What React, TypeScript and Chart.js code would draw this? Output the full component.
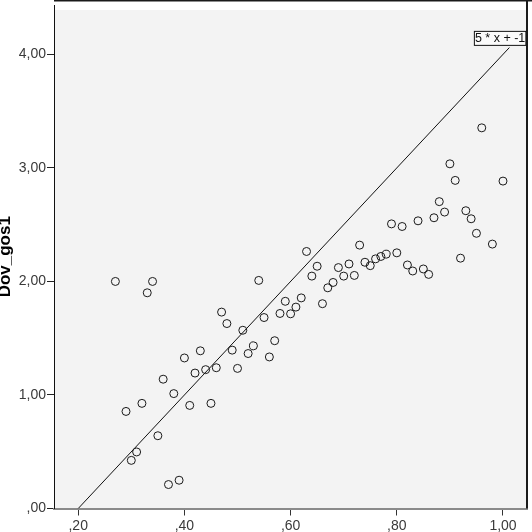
import React, { useEffect, useRef } from "react";
import { Chart, registerables } from "chart.js";

Chart.register(...registerables);

// Scatter data (x = predictor, y = Dov_gos1)
const xValues = [
  0.27, 0.34, 0.33, 0.29, 0.32, 0.3, 0.31, 0.35, 0.36, 0.38,
  0.37, 0.39, 0.4, 0.41, 0.42, 0.43, 0.44, 0.45, 0.46, 0.47,
  0.48, 0.49, 0.5, 0.51, 0.52, 0.53, 0.54, 0.55, 0.56, 0.57,
  0.58, 0.59, 0.6, 0.61, 0.62, 0.63, 0.64, 0.65, 0.66, 0.67,
  0.68, 0.69, 0.7, 0.71, 0.72, 0.73, 0.74, 0.75, 0.76, 0.77,
  0.78, 0.79, 0.8, 0.81, 0.82, 0.83, 0.84, 0.85, 0.86, 0.87,
  0.88, 0.89, 0.9, 0.91, 0.92, 0.93, 0.94, 0.95, 0.96, 0.98,
  1.0,
];
const yValues = [
  2.0, 2.0, 1.9, 0.855, 0.926, 0.424, 0.498, 0.641, 1.139, 1.012,
  0.211, 0.249, 1.326, 0.908, 1.193, 1.389, 1.223, 0.926, 1.24, 1.73,
  1.629, 1.395, 1.234, 1.57, 1.365, 1.433, 2.009, 1.682, 1.335, 1.478,
  1.718, 1.825, 1.715, 1.774, 1.855, 2.264, 2.047, 2.134, 1.804, 1.944,
  1.991, 2.122, 2.047, 2.154, 2.053, 2.32, 2.169, 2.139, 2.199, 2.22,
  2.24, 2.507, 2.252, 2.484, 2.145, 2.092, 2.534, 2.11, 2.062, 2.561,
  2.703, 2.611, 3.036, 2.89, 2.205, 2.623, 2.552, 2.424, 3.353, 2.329,
  2.884,
];

// Reference line y = 5 * x + -1
const lineSlope = 5;
const lineIntercept = -1;
const lineXStart = 0.2;
const lineXEnd = 1.012;
const lineLabel = "5 * x + -1";

const xTicks = [0.2, 0.4, 0.6, 0.8, 1.0];
const yTicks = [0, 1, 2, 3, 4];
const xMin = 0.1544;
const xMax = 1.0452;
const yMin = 0;
const yMax = 4.435;
const yTitle = "Dov_gos1";

const fmt = (v: number) => {
  const s = v.toFixed(2).replace(".", ",");
  return s.startsWith("0,") ? s.slice(1) : s;
};

const FONT = "'Liberation Sans', Arial, sans-serif";

const framePlugin = {
  id: "frame",
  beforeDraw(chart: any) {
    const { ctx, chartArea: a } = chart;
    ctx.save();
    ctx.fillStyle = "#ffffff";
    ctx.fillRect(0, 0, chart.width, chart.height);
    ctx.fillStyle = "#f3f3f3";
    ctx.fillRect(a.left, a.top + 5, a.right - a.left, a.bottom - a.top - 5);
    ctx.restore();
  },
  afterDatasetsDraw(chart: any) {
    const { ctx } = chart;
    const meta = chart.getDatasetMeta(1);
    const pts = meta.data;
    if (!pts || !pts.length) return;
    const end = pts[pts.length - 1];
    const ex = end.x;
    const ey = end.y;
    const left = ex - 35.5;
    const right = ex + 17;
    const top = ey - 16.7;
    const bottom = ey - 1.7;
    ctx.save();
    ctx.fillStyle = "#fbfbfb";
    ctx.fillRect(left, top, right - left, bottom - top);
    ctx.strokeStyle = "#111";
    ctx.lineWidth = 1;
    ctx.strokeRect(left + 0.5, top + 0.5, right - left - 1, bottom - top - 1);
    ctx.fillStyle = "#111";
    ctx.font = `12.5px ${FONT}`;
    ctx.textAlign = "center";
    ctx.textBaseline = "middle";
    ctx.fillText(lineLabel, (left + right) / 2, (top + bottom) / 2 + 0.5);
    ctx.restore();
  },
  afterDraw(chart: any) {
    const { ctx, chartArea: a } = chart;
    ctx.save();
    // top border
    ctx.fillStyle = "#1a1a1a";
    ctx.fillRect(a.left, 0, chart.width - a.left, 1.5);
    // right border
    ctx.fillRect(a.right - 1, 0, 2, a.bottom);
    // y title
    ctx.translate(10, (a.top + a.bottom) / 2);
    ctx.rotate(-Math.PI / 2);
    ctx.fillStyle = "#000";
    ctx.font = `bold 17px ${FONT}`;
    ctx.textAlign = "center";
    ctx.textBaseline = "alphabetic";
    ctx.fillText(yTitle, 0, 0);
    ctx.restore();
  },
};

export default function App() {
  const ref = useRef<HTMLCanvasElement | null>(null);

  useEffect(() => {
    document.body.style.margin = "0";
    const canvas = ref.current;
    if (!canvas) return;
    const points = xValues.map((x, i) => ({ x, y: yValues[i] }));
    const linePts = [
      { x: lineXStart, y: lineSlope * lineXStart + lineIntercept },
      { x: lineXEnd, y: lineSlope * lineXEnd + lineIntercept },
    ];
    const chart = new Chart(canvas, {
      type: "scatter",
      data: {
        datasets: [
          {
            data: points,
            pointRadius: 4,
            pointHoverRadius: 4,
            pointBorderWidth: 1,
            pointBorderColor: "#1a1a1a",
            pointBackgroundColor: "rgba(0,0,0,0)",
            showLine: false,
          },
          {
            type: "line",
            data: linePts,
            borderColor: "#111",
            borderWidth: 1,
            pointRadius: 0,
            fill: false,
            tension: 0,
          },
        ],
      } as any,
      options: {
        responsive: false,
        animation: false,
        events: [],
        layout: { padding: { top: 1, right: 1, left: 0, bottom: 0 } },
        plugins: {
          legend: { display: false },
          tooltip: { enabled: false },
          title: { display: false },
        },
        scales: {
          x: {
            type: "linear",
            min: xMin,
            max: xMax,
            afterBuildTicks: (s: any) => {
              s.ticks = xTicks.map((v) => ({ value: v }));
            },
            afterFit: (s: any) => {
              s.height = 23.5;
              s.paddingLeft = 0;
              s.paddingRight = 0;
              s.paddingTop = 0;
              s.paddingBottom = 0;
            },
            grid: {
              drawOnChartArea: false,
              drawTicks: true,
              tickLength: 7,
              color: "#333",
            },
            border: { display: true, color: "#8a8a8a", width: 2 },
            ticks: {
              padding: 2,
              color: "#3a3a3a",
              font: { family: FONT, size: 14 },
              maxRotation: 0,
              autoSkip: false,
              callback: (v: any) => fmt(Number(v)),
            },
          },
          y: {
            type: "linear",
            min: yMin,
            max: yMax,
            afterBuildTicks: (s: any) => {
              s.ticks = yTicks.map((v) => ({ value: v }));
            },
            afterFit: (s: any) => {
              s.width = 54;
              s.paddingTop = 0;
              s.paddingBottom = 0;
              s.paddingLeft = 0;
              s.paddingRight = 0;
            },
            grid: {
              drawOnChartArea: false,
              drawTicks: true,
              tickLength: 7,
              color: "#222",
            },
            border: { display: true, color: "#111", width: 1 },
            ticks: {
              padding: 1,
              color: "#3a3a3a",
              font: { family: FONT, size: 14 },
              autoSkip: false,
              callback: (v: any) => fmt(Number(v)),
            },
          },
        },
      } as any,
      plugins: [framePlugin],
    });
    return () => chart.destroy();
  }, []);

  return (
    <div style={{ position: "absolute", left: 0, top: 0, width: 532, height: 532 }}>
      <canvas ref={ref} width={532} height={532} style={{ display: "block" }} />
    </div>
  );
}
